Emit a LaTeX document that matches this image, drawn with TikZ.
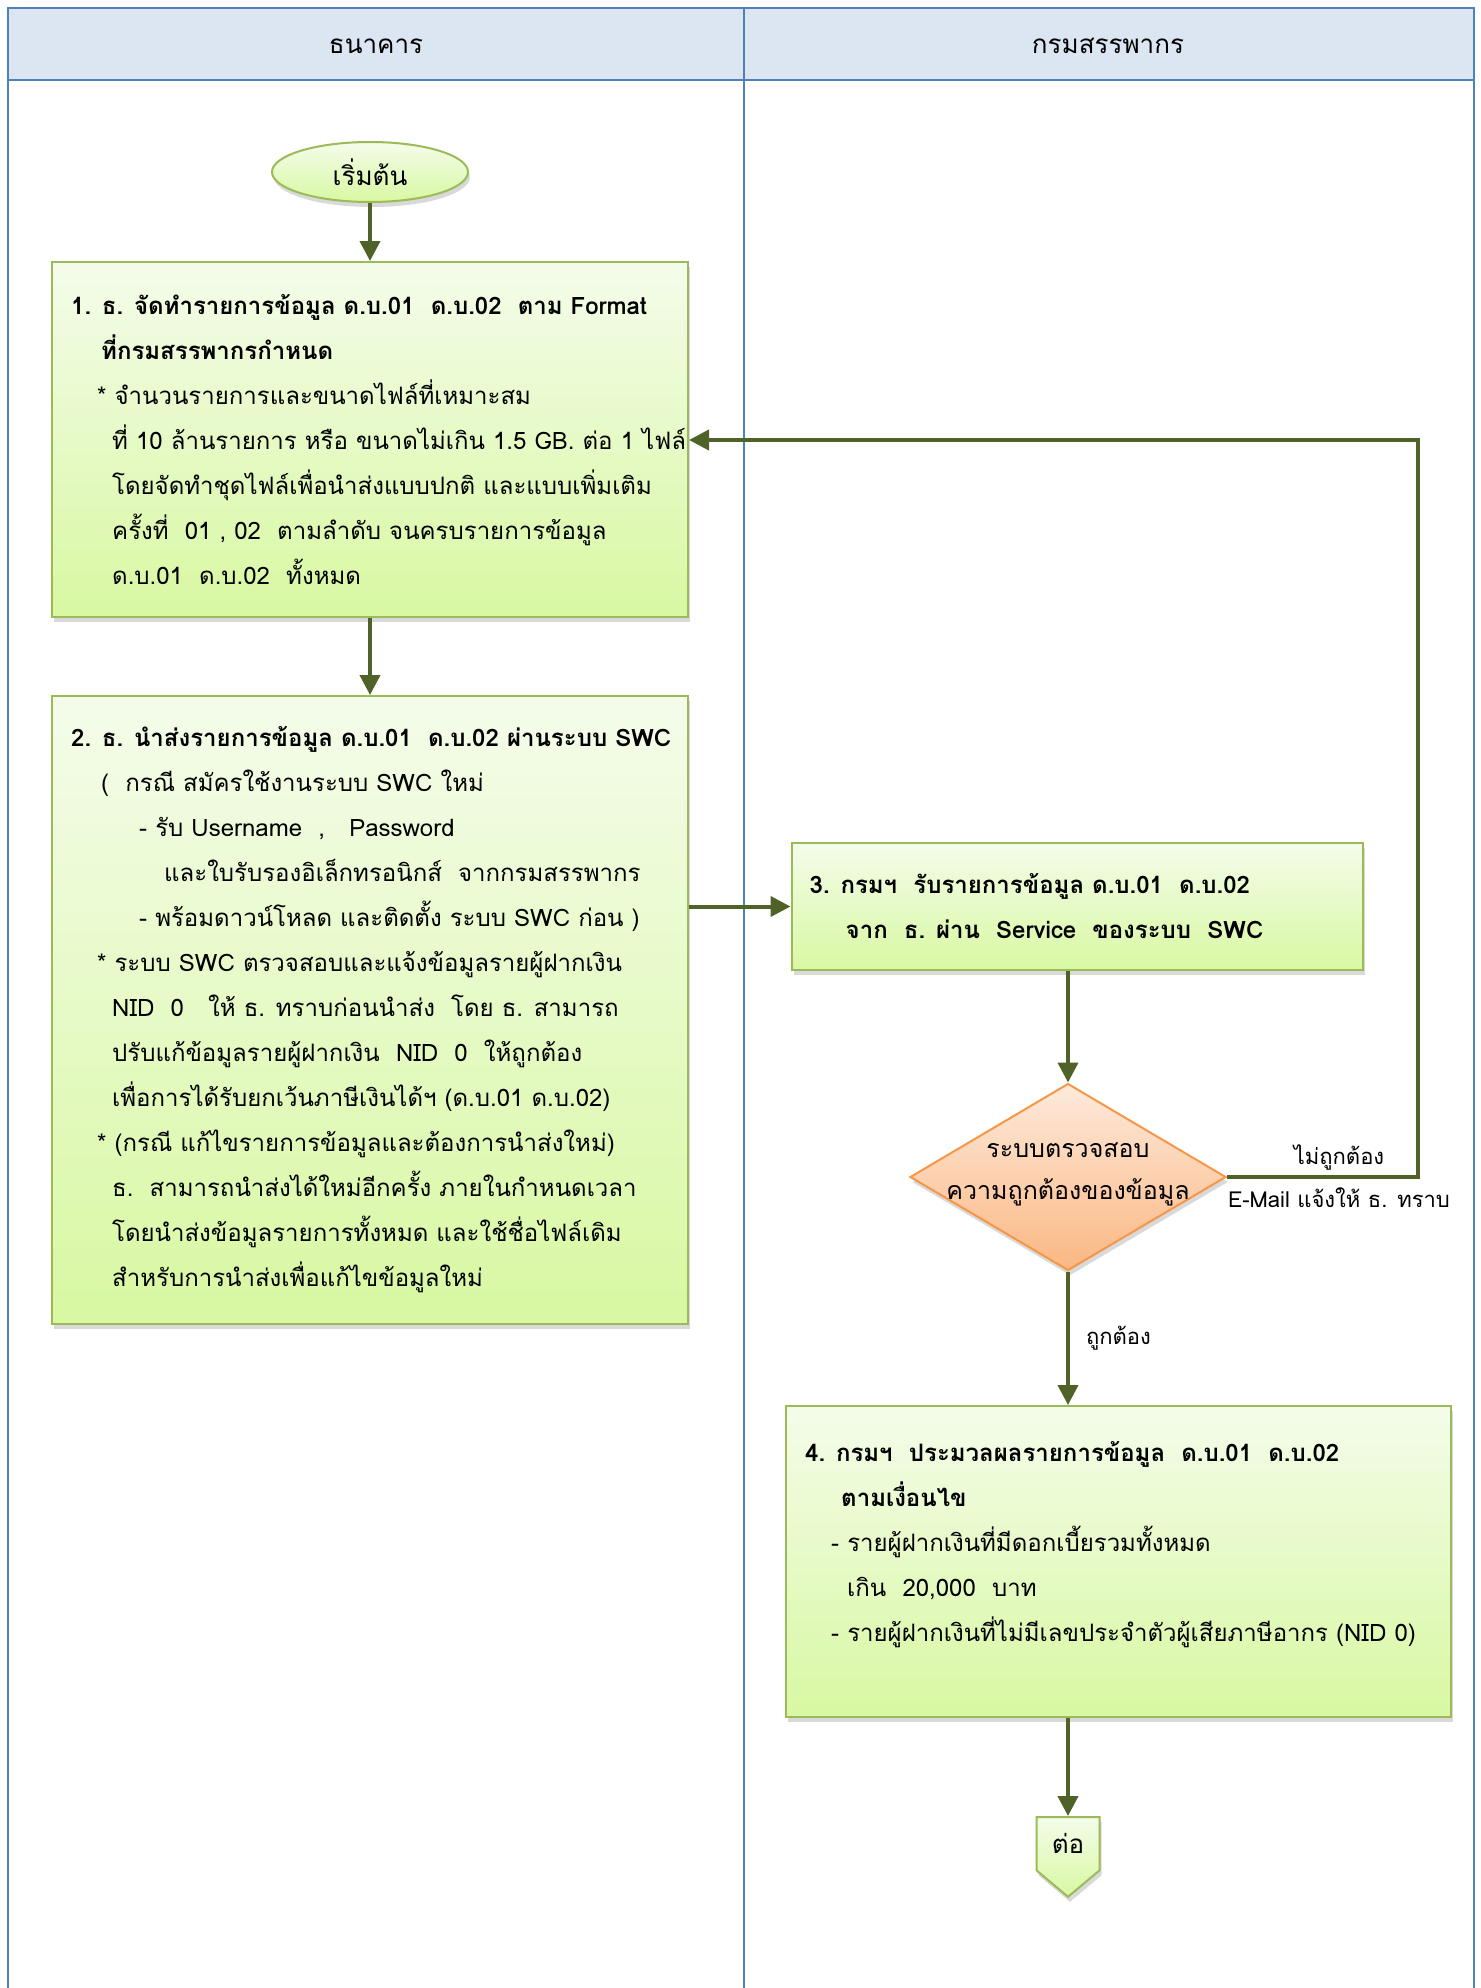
\documentclass[tikz,border=0pt]{standalone}
\usepackage{fontspec}
\setmainfont[Script=Thai]{Loma}
\usetikzlibrary{positioning,shapes.geometric,shapes.symbols,shadows,arrows.meta}

\definecolor{lanefill}{HTML}{DCE6F2}
\definecolor{laneline}{HTML}{4F81BD}
\definecolor{flowgreen}{HTML}{4F6228}
\definecolor{boxline}{HTML}{9BBB59}
\definecolor{boxtop}{HTML}{F4FCEA}
\definecolor{boxbottom}{HTML}{D8F8A2}
\definecolor{dectop}{HTML}{FDEADC}
\definecolor{decbottom}{HTML}{FBB782}
\definecolor{decline}{HTML}{F79646}

\tikzset{lane/.style={draw=laneline, line width=2.5pt},
lanehead/.style={font=\fontsize{26}{30}\selectfont, inner sep=0pt},
softshadow/.style={drop shadow={shadow xshift=2pt, shadow yshift=-5pt, opacity=.3}},
stepbox/.style={rectangle, draw=boxline, line width=2pt, top color=boxtop, bottom color=boxbottom,
  softshadow, inner sep=0pt},
steptext/.style={align=left, inner sep=0pt, font=\fontsize{24}{45}\selectfont},
startnode/.style={ellipse, draw=boxline, line width=2pt, top color=boxtop, bottom color=boxbottom,
  softshadow, minimum width=196pt, minimum height=60pt, inner sep=0pt, font=\fontsize{26}{30}\selectfont},
decision/.style={diamond, draw=decline, line width=2pt, top color=dectop, bottom color=decbottom,
  softshadow, minimum width=316pt, minimum height=187pt, inner sep=0pt},
dectext/.style={align=center, font=\fontsize{25}{42}\selectfont, inner sep=0pt},
offpage/.style={signal, signal to=south, signal pointer angle=100, draw=boxline, line width=2pt,
  top color=boxtop, bottom color=boxbottom, softshadow, minimum width=63pt, minimum height=67pt,
  inner sep=0pt, font=\fontsize{26}{30}\selectfont},
flow/.style={draw=flowgreen, line width=4pt, -{Triangle[length=20pt,width=20pt]}},
flowlabel/.style={font=\fontsize{22}{26}\selectfont, inner sep=0pt}}

\begin{document}
\begin{tikzpicture}[x=1pt,y=-1pt]

    \useasboundingbox (0,0) rectangle (1480,1988);

    \coordinate (nw) at (8,8);
    \coordinate (mid) at (744,8);
    \coordinate (loop) at (1418,440);

    % swimlanes
    \draw[lane, fill=lanefill] (nw) rectangle (1474,80);
    \foreach \x in {8,744,1474}
    \draw[lane] (\x,80) -- (\x,2000);
    \draw[lane] (mid) -- (744,80);

    \node[lanehead] (bank) at (376,46) {ธนาคาร};
    \node[lanehead] (rd) at (1108,46) {กรมสรรพากร};

    % steps
    \node[startnode] (start) at (370,172) {เริ่มต้น};

    \node[stepbox, minimum width=636pt, minimum height=355pt] (box1) at (370,439.5) {};
    \node[steptext, right=20pt of box1.west] (box1txt)
    {{\bfseries 1. ธ. จัดทำรายการข้อมูล ด.บ.01\ \ ด.บ.02\ \ ตาม Format}\\
     \hspace*{30pt}{\bfseries ที่กรมสรรพากรกำหนด}\\
     \hspace*{26pt}* จำนวนรายการและขนาดไฟล์ที่เหมาะสม\\
     \hspace*{41pt}ที่ 10 ล้านรายการ หรือ ขนาดไม่เกิน 1.5 GB. ต่อ 1 ไฟล์\\
     \hspace*{41pt}โดยจัดทำชุดไฟล์เพื่อนำส่งแบบปกติ และแบบเพิ่มเติม\\
     \hspace*{41pt}ครั้งที่\ \ 01 , 02\ \ ตามลำดับ จนครบรายการข้อมูล\\
     \hspace*{41pt}ด.บ.01\ \ ด.บ.02\ \ ทั้งหมด};

    \node[stepbox, minimum width=636pt, minimum height=628pt] (box2) at (370,1010) {};
    \node[steptext, right=20pt of box2.west] (box2txt)
    {{\bfseries 2. ธ. นำส่งรายการข้อมูล ด.บ.01\ \ ด.บ.02 ผ่านระบบ SWC}\\
     \hspace*{30pt}(\ \ กรณี สมัครใช้งานระบบ SWC ใหม่\\
     \hspace*{68pt}- รับ Username\ \ ,\ \ \ Password\\
     \hspace*{93pt}และใบรับรองอิเล็กทรอนิกส์\ \ จากกรมสรรพากร\\
     \hspace*{68pt}- พร้อมดาวน์โหลด และติดตั้ง ระบบ SWC ก่อน )\\
     \hspace*{26pt}* ระบบ SWC ตรวจสอบและแจ้งข้อมูลรายผู้ฝากเงิน\\
     \hspace*{41pt}NID\ \ 0\ \ \ ให้ ธ. ทราบก่อนนำส่ง\ \ โดย ธ. สามารถ\\
     \hspace*{41pt}ปรับแก้ข้อมูลรายผู้ฝากเงิน\ \ NID\ \ 0\ \ ให้ถูกต้อง\\
     \hspace*{41pt}เพื่อการได้รับยกเว้นภาษีเงินได้ฯ (ด.บ.01 ด.บ.02)\\
     \hspace*{26pt}* (กรณี แก้ไขรายการข้อมูลและต้องการนำส่งใหม่)\\
     \hspace*{41pt}ธ.\ \ สามารถนำส่งได้ใหม่อีกครั้ง ภายในกำหนดเวลา\\
     \hspace*{41pt}โดยนำส่งข้อมูลรายการทั้งหมด และใช้ชื่อไฟล์เดิม\\
     \hspace*{41pt}สำหรับการนำส่งเพื่อแก้ไขข้อมูลใหม่};

    \node[stepbox, minimum width=571pt, minimum height=127pt] (box3) at (1077,906.5) {};
    \node[steptext, right=19pt of box3.west] (box3txt)
    {{\bfseries 3. กรมฯ\ \ รับรายการข้อมูล ด.บ.01\ \ ด.บ.02}\\
     \hspace*{36pt}{\bfseries จาก\ \ ธ. ผ่าน\ \ Service\ \ ของระบบ\ \ SWC}};

    \node[decision] (dec) at (1068,1177) {};
    \node[dectext] (dectxt) at (1068,1174) {ระบบตรวจสอบ\\ความถูกต้องของข้อมูล};

    \node[stepbox, minimum width=665pt, minimum height=311pt] (box4) at (1118.5,1561.5) {};
    \node[steptext, right=20pt of box4.west, yshift=17pt] (box4txt)
    {{\bfseries 4. กรมฯ\ \ ประมวลผลรายการข้อมูล\ \ ด.บ.01\ \ ด.บ.02}\\
     \hspace*{36pt}{\bfseries ตามเงื่อนไข}\\
     \hspace*{26pt}- รายผู้ฝากเงินที่มีดอกเบี้ยรวมทั้งหมด\\
     \hspace*{42pt}เกิน\ \ 20,000\ \ บาท\\
     \hspace*{26pt}- รายผู้ฝากเงินที่ไม่มีเลขประจำตัวผู้เสียภาษีอากร (NID 0)};

    \node[offpage, anchor=north] (cont) at (1068,1816) {ต่อ};

    % connectors
    \draw[flow] (start) -- (box1);
    \draw[flow] (box1) -- (box2);
    \draw[flow] (box2.east |- box3.west) -- (box3.west);
    \draw[flow] (box3.south -| dec.north) -- (dec.north);
    \draw[flow] (dec.south) -- (box4.north -| dec.south)
        node[flowlabel, right=16pt, pos=.5] (ok) {ถูกต้อง};
    \draw[flow] (dec.east) -| (loop) -- (loop -| box1.east);
    \draw[flow] (box4.south -| cont.north) -- (cont.north);

    \node[flowlabel] (notok) at (1339,1157) {ไม่ถูกต้อง};
    \node[flowlabel] (mail) at (1339,1198) {E-Mail แจ้งให้ ธ. ทราบ};

\end{tikzpicture}
\end{document}
